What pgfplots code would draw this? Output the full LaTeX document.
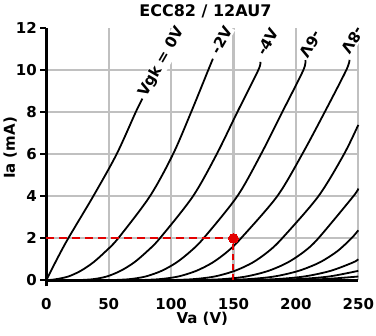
\documentclass[border=0pt]{standalone}
\usepackage{fontspec}
\setmainfont{DejaVu Sans}
\usepackage{pgfplots}
\pgfplotsset{compat=1.18}
\definecolor{gridgray}{RGB}{192,192,192}
\definecolor{ptred}{RGB}{228,0,0}
\newcommand{\lblfont}{\bfseries\fontsize{15}{18}\selectfont}
\begin{document}
\begin{tikzpicture}
\useasboundingbox (-46.3pt,-55.7pt) rectangle (329.7pt,280.3pt);
\begin{axis}[
  at={(0,0)}, anchor=south west,
  scale only axis, width=312pt, height=252pt,
  xmin=0, xmax=250, ymin=0, ymax=12,
  axis x line=bottom, axis y line=left,
  axis line style={-, line width=2.5pt, black},
  y axis line style={shorten <=-6pt},
  xtick={0,50,...,250},
  ytick={0,2,...,10},
  extra y ticks={12},
  extra y tick style={grid=none},
  grid=major,
  major grid style={gridgray, line width=2.2pt},
  tick align=outside,
  major tick length=6pt,
  x tick style={draw=none},
  y tick style={black, line width=2pt},
  tick label style={font=\lblfont},
  /pgf/number format/assume math mode=true,
  xticklabel style={yshift=-9pt},
  title={ECC82 / 12AU7},
  title style={at={(axis description cs:0.51,1.046)}, anchor=base, yshift=-6pt, inner sep=0pt, font=\bfseries\fontsize{16}{19}\selectfont},
  xlabel={Va (V)},
  xlabel style={at={(axis description cs:0.5,-0.1706)}, anchor=base, yshift=0pt, inner sep=0pt, font=\lblfont},
  ylabel={Ia (mA)},
  ylabel style={at={(axis description cs:-0.1154,0.525)}, anchor=center, inner sep=0pt, font=\lblfont},
  clip=false,
  crv/.style={black, no markers, line width=1.8pt, smooth, tension=0.5},
]
% Vgk = 0V
\addplot[crv] coordinates {(0,0)(8.5,1)(17.6,2)(37.6,4)(56.3,6)(71.6,8)(77,8.65)};
% -2V
\addplot[crv] coordinates {(0,0)(7.6,0.05)(17.6,0.18)(27.6,0.45)(37.6,0.85)(47.6,1.38)(57.6,2)(83,4)(101.5,6)(116,8)(129.7,10)(133.5,10.55)};
% -4V
\addplot[crv] coordinates {(22.8,0)(37,0.05)(48.4,0.18)(59.5,0.45)(70.4,0.85)(80.8,1.38)(91,2)(117.5,4)(136.5,6)(153,8)(169.8,10)(171.5,10.4)};
% -6V
\addplot[crv] coordinates {(48.5,0)(65.9,0.05)(79.5,0.18)(92.4,0.45)(104.4,0.85)(115.6,1.38)(126,2)(153,4)(172,6)(189,8)(205.9,10)(207.5,10.48)};
% -8V
\addplot[crv] coordinates {(69.2,0)(89.9,0.05)(105.7,0.18)(120.2,0.45)(133.4,0.85)(145.4,1.38)(156,2)(185,4)(205,6)(223,8)(240.3,10)(243,10.5)};
% -10V
\addplot[crv] coordinates {(92.9,0)(116.8,0.05)(134.8,0.18)(151,0.45)(165.5,0.85)(178.1,1.38)(189,2)(218,4)(238.5,6)(250,7.4)};
% -12V
\addplot[crv] coordinates {(112.6,0)(140,0.05)(160,0.18)(178,0.45)(193.5,0.85)(206.9,1.38)(218,2)(246,4)(250,4.37)};
% -14V
\addplot[crv] coordinates {(129.8,0)(160.2,0.05)(182.6,0.18)(202.2,0.45)(219,0.85)(233.1,1.38)(244.5,2)(250,2.38)};
% -16V
\addplot[crv] coordinates {(148.3,0)(182,0.05)(206.5,0.18)(227.8,0.45)(245.8,0.85)(250,1.0)};
% -18V
\addplot[crv] coordinates {(161,0)(199,0.05)(226.4,0.18)(250,0.45)};
% -20V
\addplot[crv] coordinates {(177,0)(219.6,0.05)(250,0.18)};
% operating point
\addplot[ptred, no markers, line width=2pt, dash pattern=on 8pt off 5pt] coordinates {(0,2)(150,2)};
\addplot[ptred, no markers, line width=2pt, dash pattern=on 6pt off 4pt] coordinates {(150,0)(150,2)};
\addplot[ptred, only marks, mark=*, mark size=4.8pt, mark options={fill=ptred, draw=ptred, line width=0pt}] coordinates {(150,2)};
% curve labels
\node[rotate=60, fill=white, inner sep=1pt, font=\lblfont] at (axis cs:92.6,10.38) {Vgk = 0V};
\node[rotate=60, fill=white, inner sep=1pt, font=\lblfont] at (axis cs:140.7,11.44) {-2V};
\node[rotate=60, fill=white, inner sep=1pt, font=\lblfont] at (axis cs:177.5,11.35) {-4V};
\node[rotate=240, fill=white, inner sep=1pt, font=\lblfont] at (axis cs:212,11.25) {-6V};
\node[rotate=240, fill=white, inner sep=1pt, font=\lblfont] at (axis cs:245.6,11.44) {-8V};
\end{axis}
\end{tikzpicture}
\end{document}
